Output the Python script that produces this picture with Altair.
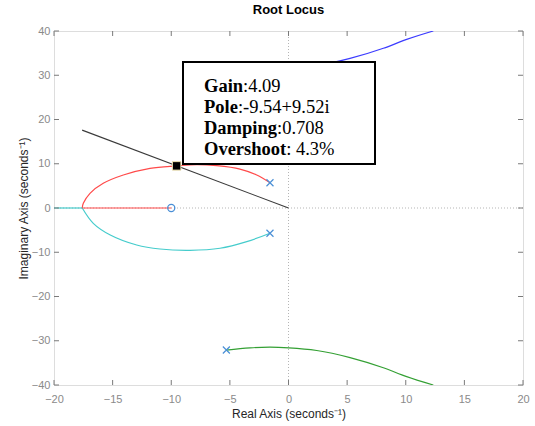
import altair as alt
import pandas as pd

# ---------------- data ----------------
X_TICKS = [-20, -15, -10, -5, 0, 5, 10, 15, 20]
Y_TICKS = [-40, -30, -20, -10, 0, 10, 20, 30, 40]

red_arc_re = [-1.58, -2.71, -4.14, -6.12, -7.83, -9.54, -11.81, -14.09, -15.80, -16.93, -17.50, -17.59]
red_arc_im = [5.70, 7.46, 8.80, 9.56, 9.80, 9.52, 8.97, 7.46, 5.58, 3.32, 1.06, 0.00]
red_axis_re = [-17.59, -10.0]
red_axis_im = [0.0, 0.0]

cyan_arc_re = [-1.58, -3.56, -5.84, -8.40, -10.96, -12.95, -15.20, -16.65, -17.59]
cyan_arc_im = [-5.70, -7.60, -9.10, -9.56, -9.27, -8.36, -6.10, -3.46, 0.00]
cyan_axis_re = [-17.59, -20.0]
cyan_axis_im = [0.0, 0.0]

green_re = [-5.30, -3.28, -1.58, 0.04, 2.41, 5.25, 8.09, 10.08, 12.35]
green_im = [-32.1, -31.6, -31.45, -31.6, -32.2, -33.8, -36.1, -38.1, -40.0]
blue_re = [-5.30, -3.28, -1.58, 0.04, 2.41, 5.25, 8.09, 10.08, 12.35]
blue_im = [32.1, 31.6, 31.45, 31.6, 32.2, 33.8, 36.1, 38.1, 40.0]

pole_re = [-1.58, -1.58, -5.30, -5.30]
pole_im = [5.70, -5.70, -32.1, 32.1]
zero_re = [-10.0]
zero_im = [0.0]

damp_re = [0.0, -17.6]
damp_im = [0.0, 17.6]

sel_re = [-9.54]
sel_im = [9.52]

ann_labels = ["Gain", "Pole", "Damping", "Overshoot"]
ann_values = [":4.09", ":-9.54+9.52i", ":0.708", ": 4.3%"]

SERIES_COLORS = {"red": "#ff4a4a", "cyan": "#45cccc", "green": "#34a034", "blue": "#3c3cff"}

# ---------------- tables ----------------
def seg(name, re, im):
    return pd.DataFrame({"re": re, "im": im, "series": name, "idx": list(range(len(re)))})

loops = pd.concat([
    seg("red", red_arc_re, red_arc_im),
    seg("cyan", cyan_arc_re, cyan_arc_im),
])
branches = pd.concat([
    seg("green", green_re, green_im),
    seg("blue", blue_re, blue_im),
])
axes_seg = pd.concat([
    seg("red", red_axis_re, red_axis_im),
    seg("cyan", cyan_axis_re, cyan_axis_im),
])

W, H = 469, 354
xs = alt.Scale(domain=[-20, 20], nice=False, zero=False)
ys = alt.Scale(domain=[-40, 40], nice=False, zero=False)

x_axis = alt.Axis(values=X_TICKS, title="Real Axis (seconds⁻¹)", ticks=False, tickSize=0, domain=False,
                  grid=False, labelColor="#8a8a8a", labelFontSize=11, labelFont="Liberation Sans",
                  labelPadding=8, labelFlush=False, labelOverlap=False, titleFont="Liberation Sans",
                  titleFontSize=12, titleFontWeight="normal", titleColor="#262626", titlePadding=4)
y_axis = alt.Axis(values=Y_TICKS, title="Imaginary Axis (seconds⁻¹)", ticks=False, tickSize=0, domain=False,
                  grid=False, labelColor="#8a8a8a", labelFontSize=11, labelFont="Liberation Sans",
                  labelPadding=4, labelFlush=False, labelOverlap=False, titleFont="Liberation Sans",
                  titleFontSize=12, titleFontWeight="normal", titleColor="#262626", titlePadding=1)

X = alt.X("re:Q", scale=xs, axis=x_axis)
Y = alt.Y("im:Q", scale=ys, axis=y_axis)

color = alt.Color("series:N", scale=alt.Scale(domain=list(SERIES_COLORS.keys()),
                                              range=list(SERIES_COLORS.values())), legend=None)

one = pd.DataFrame({"a": [0]})

grid_v = alt.Chart(pd.DataFrame({"re": [0.0]})).mark_rule(color="#b5b5b5", strokeDash=[1, 2], strokeWidth=1).encode(x=X)
grid_h = alt.Chart(pd.DataFrame({"im": [0.0]})).mark_rule(color="#b5b5b5", strokeDash=[1, 2], strokeWidth=1).encode(y=Y)

loop_lines = alt.Chart(loops).mark_line(clip=True, interpolate="catmull-rom", strokeWidth=1.2).encode(
    x=X, y=Y, color=color, detail="series:N", order="idx:Q")
branch_lines = alt.Chart(branches).mark_line(clip=True, interpolate="monotone", strokeWidth=1.2).encode(
    x=X, y=Y, color=color, detail="series:N", order="idx:Q")
axis_lines = alt.Chart(axes_seg).mark_line(clip=True, strokeWidth=1.2).encode(
    x=X, y=Y, color=color, detail="series:N", order="idx:Q")

damp = alt.Chart(pd.DataFrame({"re": damp_re, "im": damp_im, "idx": [0, 1]})).mark_line(
    color="#3a3a3a", strokeWidth=1.1).encode(x=X, y=Y, order="idx:Q")

poles = alt.Chart(pd.DataFrame({"re": pole_re, "im": pole_im})).mark_point(
    shape="M-1,-1L1,1M-1,1L1,-1", filled=False, color="#4a8fd6", strokeWidth=1.2, size=49, opacity=1,
    clip=True).encode(x=X, y=Y)
zeros = alt.Chart(pd.DataFrame({"re": zero_re, "im": zero_im})).mark_point(
    shape="circle", filled=False, color="#4a8fd6", strokeWidth=1.3, size=50, opacity=1).encode(x=X, y=Y)

box = alt.Chart(one).mark_rect(fill="white", stroke="black", strokeWidth=2).encode(
    x=alt.value(129), x2=alt.value(321), y=alt.value(31), y2=alt.value(133))

# annotation text
bold_w = [39.1, 33.9, 73.0, 82.2]
base_y = [61.3, 82.2, 103.1, 124.0]
ann_df = pd.DataFrame({"lab": ann_labels, "val": ann_values, "px": [150] * 4,
                       "vx": [150 + w for w in bold_w], "py": base_y})
ann_bold = alt.Chart(ann_df).mark_text(font="Liberation Serif", fontSize=18.5, fontWeight="bold",
                                       align="left", baseline="alphabetic", color="black").encode(
    x=alt.X("px:Q", scale=None), y=alt.Y("py:Q", scale=None), text="lab:N")
ann_reg = alt.Chart(ann_df).mark_text(font="Liberation Serif", fontSize=18.5, fontWeight="normal",
                                      align="left", baseline="alphabetic", color="black").encode(
    x=alt.X("vx:Q", scale=None), y=alt.Y("py:Q", scale=None), text="val:N")

sel = alt.Chart(pd.DataFrame({"re": sel_re, "im": sel_im})).mark_point(
    shape="square", filled=True, fill="black", stroke="#efe2b0", strokeWidth=1, size=72, opacity=1).encode(x=X, y=Y)

# inside tick marks on all four sides
tick_col = "#7a7a7a"
xt = pd.DataFrame({"re": X_TICKS})
yt = pd.DataFrame({"im": Y_TICKS})
tb = alt.Chart(xt).mark_rule(color=tick_col).encode(x=X, y=alt.value(H - 5), y2=alt.value(H))
tt = alt.Chart(xt).mark_rule(color=tick_col).encode(x=X, y=alt.value(0), y2=alt.value(5))
tl = alt.Chart(yt).mark_rule(color=tick_col).encode(y=Y, x=alt.value(0), x2=alt.value(5))
tr = alt.Chart(yt).mark_rule(color=tick_col).encode(y=Y, x=alt.value(W - 5), x2=alt.value(W))

chart = alt.layer(
    grid_v, grid_h, loop_lines, branch_lines, axis_lines, damp, poles, zeros, box, ann_bold, ann_reg, sel,
    tb, tt, tl, tr
).properties(
    width=W, height=H,
    title=alt.TitleParams("Root Locus", fontSize=13, fontWeight="bold", font="Liberation Sans",
                          color="black", offset=8),
    autosize=alt.AutoSizeParams(type="none"),
    padding={"left": 54, "top": 31, "right": 12, "bottom": 41},
).configure_view(stroke="#7a7a7a", strokeWidth=1).configure(background="white")

chart.save("out.html", embed_options={"renderer": "svg", "actions": False})
